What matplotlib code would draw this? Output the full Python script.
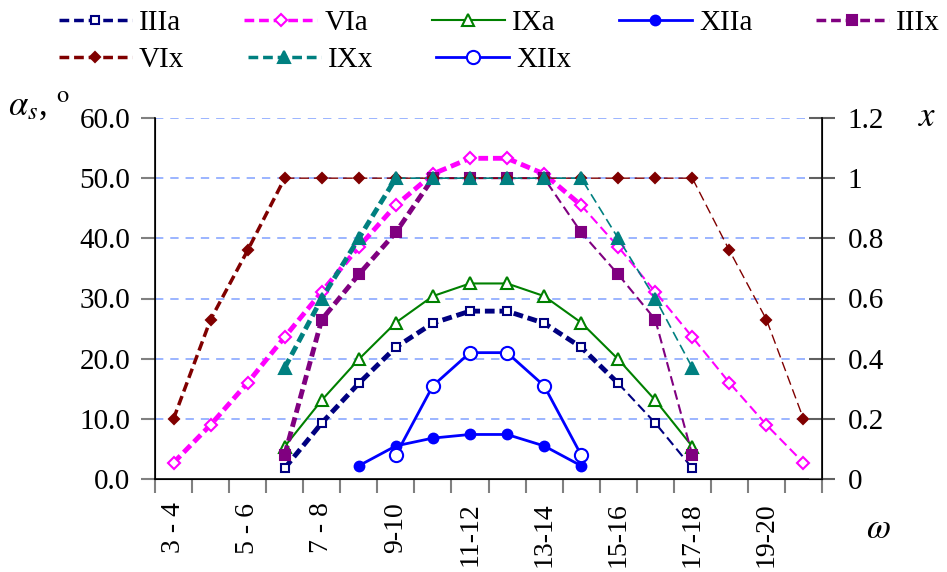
import numpy as np
import matplotlib
matplotlib.use('Agg')
import matplotlib.pyplot as plt
from matplotlib.lines import Line2D

plt.rcParams['font.family'] = ['Liberation Serif', 'DejaVu Serif']
plt.rcParams['mathtext.fontset'] = 'stix'
plt.rcParams['lines.scale_dashes'] = False

# hour intervals (category axis)
cats = ['3 - 4', '4 - 5', '5 - 6', '6 - 7', '7 - 8', '8 - 9', '9-10', '10-11', '11-12',
        '12-13', '13-14', '14-15', '15-16', '16-17', '17-18', '18-19', '19-20', '20-21']

# solar angle alpha_s, deg (left axis) - first category index + values
IIIa_start = 3
IIIa = [1.8, 9.3, 15.9, 21.9, 25.9, 27.9, 27.9, 25.9, 21.9, 15.9, 9.3, 1.8]
VIa_start = 0
VIa = [2.7, 9.0, 16.0, 23.6, 31.1, 38.6, 45.5, 50.7, 53.3, 53.3, 50.7, 45.5,
       38.6, 31.1, 23.6, 16.0, 9.0, 2.7]
IXa_start = 3
IXa = [5.4, 13.1, 19.9, 26.0, 30.4, 32.5, 32.5, 30.4, 26.0, 19.9, 13.1, 5.4]
XIIa_start = 5
XIIa = [2.2, 5.5, 6.8, 7.4, 7.4, 5.5, 2.2]

# x (right axis)
IIIx_start = 3
IIIx = [0.08, 0.53, 0.68, 0.82, 1, 1, 1, 1, 0.82, 0.68, 0.53, 0.08]
VIx_start = 0
VIx = [0.2, 0.53, 0.76, 1, 1, 1, 1, 1, 1, 1, 1, 1, 1, 1, 1, 0.76, 0.53, 0.2]
IXx_start = 3
IXx = [0.37, 0.6, 0.8, 1, 1, 1, 1, 1, 1, 0.8, 0.6, 0.37]
XIIx_start = 6
XIIx = [0.08, 0.31, 0.42, 0.42, 0.31, 0.08]

DASH = (7, 3.5)
W, H = 947, 572

fig = plt.figure(figsize=(W/100, H/100), dpi=100)
ax = fig.add_axes([155/W, 1-479/H, 667/W, 361/H])
ax2 = ax.twinx()


def draw(axis, start, vals, color, dashed, lw_a, lw_b, split, marker, ms, mfc):
    xs = np.arange(start, start + len(vals)) + 0.5
    vals = np.asarray(vals, dtype=float)
    k = max(0, min(split - start, len(vals) - 1))
    kw = dict(color=color, zorder=3, solid_capstyle='butt', dash_capstyle='butt')
    if dashed:
        kw['dashes'] = DASH
    if k > 0:
        axis.plot(xs[:k + 1], vals[:k + 1], lw=lw_a, **kw)
    if k < len(vals) - 1:
        axis.plot(xs[k:], vals[k:], lw=lw_b, **kw)
    axis.plot(xs, vals, ls='none', marker=marker, ms=ms, mfc=mfc, mec=color,
              mew=1.5, zorder=3.5)


draw(ax, IIIa_start, IIIa, '#000080', True, 3.5, 1.5, 12, 's', 6, 'white')
draw(ax, VIa_start, VIa, '#ff00ff', True, 3.5, 1.5, 11, 'D', 6.5, 'white')
draw(ax, IXa_start, IXa, '#008000', False, 1.5, 1.5, 20, '^', 9, 'white')
draw(ax, XIIa_start, XIIa, '#0000ff', False, 2, 2, 20, 'o', 7, '#0000ff')
draw(ax2, IIIx_start, IIIx, '#800080', True, 3.5, 1.5, 7, 's', 7, '#800080')
draw(ax2, VIx_start, VIx, '#800000', True, 2.5, 1.0, 3, 'D', 5.5, '#800000')
draw(ax2, IXx_start, IXx, '#008080', True, 3.5, 1.2, 6, '^', 8, '#008080')
draw(ax2, XIIx_start, XIIx, '#0000ff', False, 2, 2, 20, 'o', 9.5, 'white')

# axes
ax.set_xlim(0, len(cats))
ax.set_ylim(0, 60)
ax2.set_ylim(0, 1.2)
for a in (ax, ax2):
    a.spines['top'].set_visible(False)
ax.spines['left'].set_linewidth(1.2)
ax.spines['bottom'].set_linewidth(1.2)
ax2.spines['right'].set_linewidth(1.2)

ax.set_yticks(np.arange(0, 61, 10))
ax.set_yticklabels(['%.1f' % v for v in np.arange(0, 61, 10)])
ax2.set_yticks([0, 0.2, 0.4, 0.6, 0.8, 1.0, 1.2])
ax2.set_yticklabels(['0', '0.2', '0.4', '0.6', '0.8', '1', '1.2'])

ax.set_xticks(np.arange(0, len(cats) + 1), minor=True)
ax.set_xticks(np.arange(0, len(cats), 2) + 0.5)
ax.set_xticklabels(cats[::2], rotation=90)
ax.tick_params(axis='x', which='major', length=0, pad=17, labelsize=20)
ax.tick_params(axis='x', which='minor', length=10, width=1.5, color='#808080', direction='out')
ax.tick_params(axis='y', length=10, width=1.5, color='#808080', direction='out', pad=8, labelsize=21)
ax2.tick_params(axis='y', length=19, width=1.5, color='#606060', direction='inout', pad=9, labelsize=21)

for v in range(10, 61, 10):
    ax.axhline(v, color='#8aa8ff', lw=1.2, dashes=(6, 5), zorder=1)

# axis titles
fig.text(8/W, 1 - 106/H, r'$\alpha_{s}$, $^{\mathrm{o}}$', fontsize=25, va='center', ha='left')
fig.text(918/W, 1 - 118/H, r'$x$', fontsize=25, va='center', ha='left')
fig.text(866/W, 1 - 530/H, r'$\omega$', fontsize=25, va='center', ha='left')


# legend, two rows
def h(color, dashed, marker, ms, mfc, lw):
    kw = dict(color=color, lw=lw, marker=marker, ms=ms, mfc=mfc, mec=color, mew=1.5)
    if dashed:
        kw['dashes'] = DASH
    return Line2D([], [], **kw)

row1 = [h('#000080', True, 's', 6, 'white', 2.5), h('#ff00ff', True, 'D', 6.5, 'white', 2.5),
        h('#008000', False, '^', 9, 'white', 1.5), h('#0000ff', False, 'o', 7, '#0000ff', 2),
        h('#800080', True, 's', 7, '#800080', 2.5)]
row2 = [h('#800000', True, 'D', 5.5, '#800000', 2.5), h('#008080', True, '^', 8, '#008080', 2.5),
        h('#0000ff', False, 'o', 9.5, 'white', 2)]
labels1 = ['IIIa', 'VIa', 'IXa', 'XIIa', 'IIIx']
labels2 = ['VIx', 'IXx', 'XIIx']
LFS = 21


def make_legend(handles, labels, y, colsp, x0=60):
    return fig.legend(handles, labels, loc='center left', bbox_to_anchor=(x0/W, 1 - y/H),
                      ncol=5, frameon=False, fontsize=LFS, handlelength=2.5,
                      handletextpad=0.25, columnspacing=colsp, borderpad=0, borderaxespad=0)


# place text starts near the reference positions (first and last label)
targets1 = [139, 896]
leg1 = make_legend(row1, labels1, 23, 2.4)
leg2 = make_legend(row2, labels2, 60, 2.4)
fig.canvas.draw()
r = fig.canvas.get_renderer()
t = [tx.get_window_extent(r).x0 for tx in leg1.get_texts()]
em = LFS * 100 / 72
colsp = 2.4 + ((targets1[1] - targets1[0]) - (t[4] - t[0])) / 4 / em
x0 = 60 + (targets1[0] - t[0])
leg1.remove()
leg2.remove()
make_legend(row1, labels1, 23, colsp, x0)
make_legend(row2, labels2, 60, colsp, x0)

fig.savefig('out.png', dpi=100)
